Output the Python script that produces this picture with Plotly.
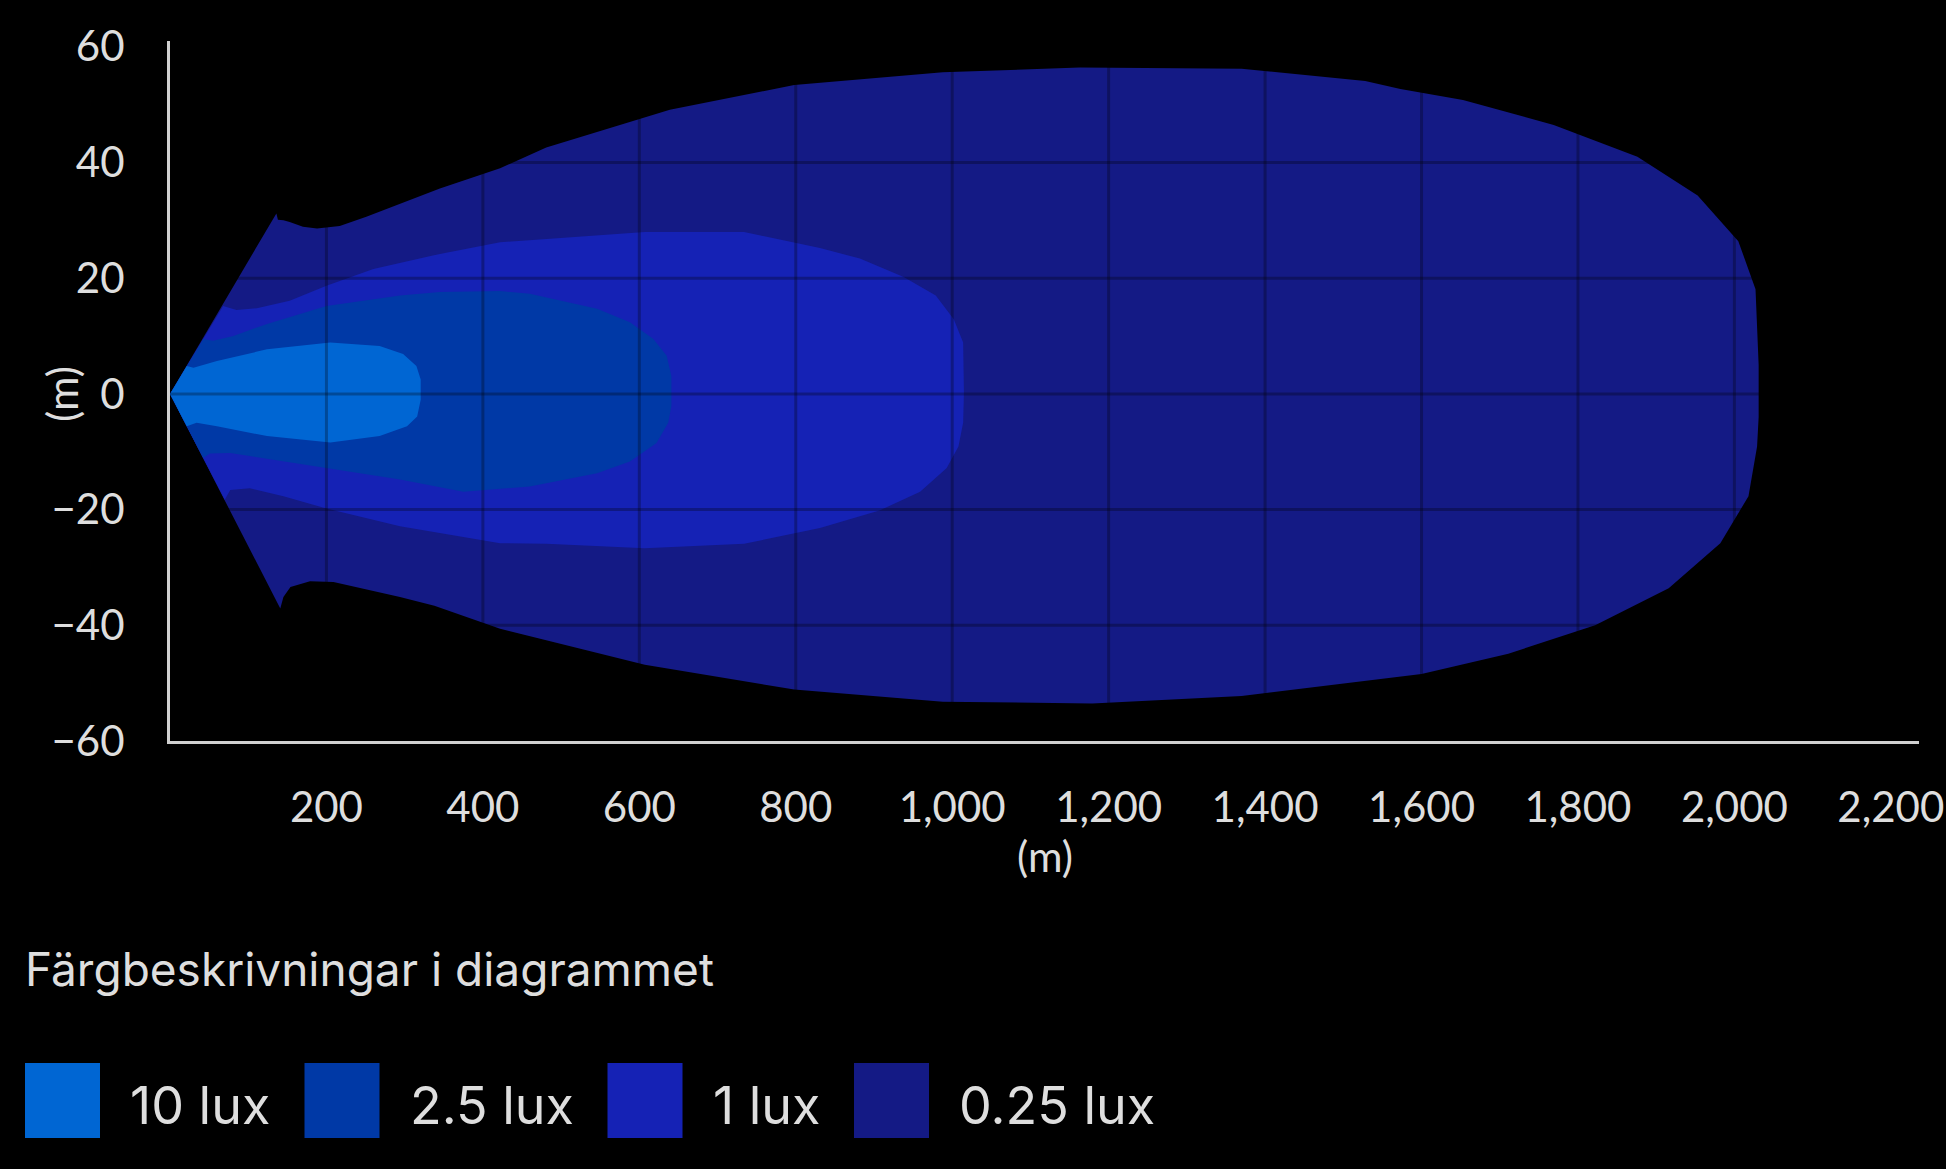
import plotly.graph_objects as go

# isolux levels (drawn from the outermost to the innermost)
NIVAER = ["0.25 lux", "1 lux", "2.5 lux", "10 lux"]
FARGER = ["#141A85", "#1522B5", "#0039A6", "#0066D3"]

# contour outlines, x = distance (m), y = lateral offset (m)
lux025_x = [0, 136, 138, 145, 153, 170, 188, 217, 251, 345, 422, 481, 639, 798, 988, 1163,
            1370, 1528, 1573, 1653, 1769, 1876, 1953, 2005, 2027, 2031, 2031, 2029,
            2018, 1982, 1916, 1822, 1711, 1600, 1370, 1179, 988, 798, 607, 481, 422,
            338, 294, 209, 179, 154, 145, 141, 0]
lux025_y = [0, 31.2, 30.1, 30.0, 29.7, 28.9, 28.6, 29.0, 30.6, 35.5, 39.0, 42.6, 49.1,
            53.4, 55.6, 56.4, 56.2, 54.1, 52.7, 50.8, 46.5, 41.0, 34.3, 26.4, 18.1, 5.0,
            -4.0, -9.1, -17.7, -25.8, -33.6, -40.0, -44.9, -48.4, -52.2, -53.5, -53.2,
            -51.1, -46.8, -42.5, -40.6, -36.6, -35.1, -32.5, -32.4, -33.4, -35.1, -37.1, 0]

lux1_x = [0, 68, 85, 111, 153, 200, 260, 345, 422, 607, 734, 831, 882, 938, 979, 1002,
          1014, 1015, 1014, 1008, 993, 959, 908, 831, 734, 607, 481, 422, 294, 200, 145,
          102, 77, 70, 0]
lux1_y = [0, 15.2, 14.5, 14.8, 16.1, 18.7, 21.6, 24.2, 26.2, 28.0, 28.0, 25.2, 23.4,
          20.2, 17.0, 12.9, 8.9, 0.2, -5.0, -9.1, -12.8, -16.9, -20.1, -23.2, -25.9,
          -26.7, -25.9, -25.8, -22.9, -19.8, -17.7, -16.3, -16.6, -18.3, 0]

lux25_x = [0, 42.6, 55, 81, 124, 200, 294, 345, 422, 460, 546, 588, 618, 635, 641, 641,
           637, 622, 588, 546, 460, 375, 294, 200, 124, 77, 51, 42.5, 0]
lux25_y = [0, 9.5, 9.2, 10.0, 12.1, 15.2, 17.0, 17.6, 17.8, 17.3, 14.7, 12.4, 9.5, 6.6,
           3.1, -2.1, -5.0, -8.5, -11.7, -13.7, -16.0, -16.9, -14.8, -12.8, -11.1, -10.2,
           -10.3, -11.1, 0]

lux10_x = [0, 21.4, 30, 60, 124, 205, 268, 298, 315, 320.5, 320.5, 316, 303, 268, 205,
           124, 60, 34, 21.4, 0]
lux10_y = [0, 4.8, 4.5, 5.7, 7.7, 8.9, 8.3, 6.9, 4.8, 2.5, -1.0, -3.9, -5.6, -7.3,
           -8.4, -7.3, -5.6, -5.0, -5.6, 0]

X_TICKS = [200, 400, 600, 800, 1000, 1200, 1400, 1600, 1800, 2000, 2200]
X_LABELS = ["200", "400", "600", "800", "1,000", "1,200", "1,400", "1,600",
            "1,800", "2,000", "2,200"]
Y_TICKS = [-60, -40, -20, 0, 20, 40, 60]

LEGEND_TITEL = "Färgbeskrivningar i diagrammet"
LEGEND_ORDNING = ["10 lux", "2.5 lux", "1 lux", "0.25 lux"]

BAKGRUND = "#000000"
TEXT = "#DEDEDE"
AXEL = "#D0D0D0"
RUTNAT = "rgba(0,0,0,0.28)"

W, H = 1946, 1169
M_L, M_R, M_T, M_B = 170, 27, 41, 428
PW, PH = W - M_L - M_R, H - M_T - M_B


def paper(px, py):
    return (px - M_L) / PW, (H - M_B - py) / PH


fig = go.Figure()
konturer = [(lux025_x, lux025_y), (lux1_x, lux1_y), (lux25_x, lux25_y), (lux10_x, lux10_y)]
for namn, farg, (xs, ys) in zip(NIVAER, FARGER, konturer):
    fig.add_trace(go.Scatter(
        x=xs, y=ys, mode="lines", fill="toself", fillcolor=farg,
        line=dict(width=0, color=farg), name=namn, hoverinfo="skip",
        showlegend=False,
    ))

# grid drawn on top of the filled areas
former = []
for xv in X_TICKS:
    former.append(dict(type="line", xref="x", yref="paper", x0=xv, x1=xv, y0=0, y1=1,
                       line=dict(color=RUTNAT, width=3), layer="above"))
for yv in Y_TICKS[1:-1]:
    former.append(dict(type="line", xref="paper", yref="y", x0=0, x1=1, y0=yv, y1=yv,
                       line=dict(color=RUTNAT, width=3), layer="above"))

# legend swatches + labels
anteckningar = []
ruta_x = [25, 304.5, 607.5, 854]
for namn, rx in zip(LEGEND_ORDNING, ruta_x):
    farg = FARGER[NIVAER.index(namn)]
    x0, y0 = paper(rx, 1138)
    x1, y1 = paper(rx + 75, 1063)
    former.append(dict(type="rect", xref="paper", yref="paper", x0=x0, x1=x1, y0=y0, y1=y1,
                       fillcolor=farg, line=dict(width=0)))
    tx, ty = paper(rx + 103, 1105)
    anteckningar.append(dict(text=namn, xref="paper", yref="paper", x=tx, y=ty,
                             xanchor="left", yanchor="middle", showarrow=False,
                             font=dict(family="Inter", size=52, color=TEXT)))

tx, ty = paper(23, 969)
anteckningar.append(dict(text=LEGEND_TITEL, xref="paper", yref="paper", x=tx, y=ty,
                         xanchor="left", yanchor="middle", showarrow=False,
                         font=dict(family="Inter", size=46, color=TEXT)))

# axis titles
tx, ty = paper(M_L + PW / 2, 856)
anteckningar.append(dict(text="(m)", xref="paper", yref="paper", x=tx, y=ty,
                         xanchor="center", yanchor="middle", showarrow=False,
                         font=dict(family="Lato", size=42, color=TEXT)))
tx, ty = paper(62, 394)
anteckningar.append(dict(text="(m)", xref="paper", yref="paper", x=tx, y=ty,
                         xanchor="center", yanchor="middle", showarrow=False, textangle=-90,
                         font=dict(family="Lato", size=42, color=TEXT)))

fig.update_layout(
    width=W, height=H,
    margin=dict(l=M_L, r=M_R, t=M_T, b=M_B),
    paper_bgcolor=BAKGRUND, plot_bgcolor=BAKGRUND,
    font=dict(family="Lato", color=TEXT, size=42),
    shapes=former, annotations=anteckningar,
    showlegend=False,
)
fig.update_xaxes(
    range=[0, 2236], tickvals=X_TICKS, ticktext=X_LABELS,
    showgrid=False, zeroline=False, showline=True, linecolor=AXEL, linewidth=3,
    tickfont=dict(family="Lato", size=42, color=TEXT), ticks="", ticklabelstandoff=28,
    automargin=False,
)
fig.update_yaxes(
    range=[-60, 61], tickvals=Y_TICKS,
    showgrid=False, zeroline=False, showline=True, linecolor=AXEL, linewidth=3,
    tickfont=dict(family="Lato", size=42, color=TEXT), ticks="", ticklabelstandoff=34,
    automargin=False,
)

fig.write_html(
    "out.html",
    config={"displayModeBar": False},
    post_script="document.body.style.margin='0';document.body.style.background='#000';",
)
